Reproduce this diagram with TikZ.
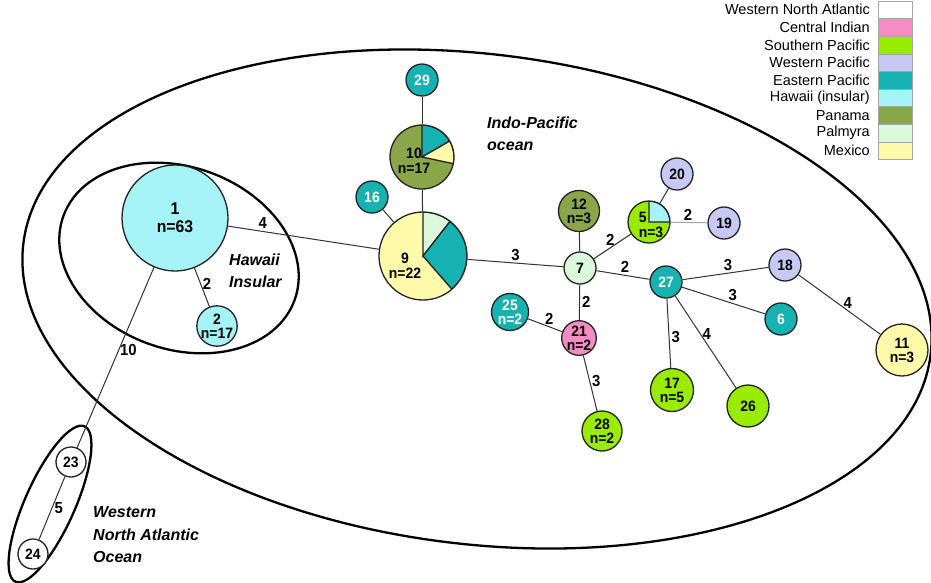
\documentclass[tikz,border=0pt]{standalone}
\usepackage{fontspec}
\setmainfont{Liberation Sans}
\newfontfamily\narrowsans[FakeStretch=0.93]{Liberation Sans}
\usetikzlibrary{positioning}

\definecolor{wnatl}{RGB}{255,255,255}
\definecolor{cindian}{RGB}{245,140,195}
\definecolor{spacific}{RGB}{153,236,0}
\definecolor{wpacific}{RGB}{200,200,245}
\definecolor{epacific}{RGB}{22,178,178}
\definecolor{hawaii}{RGB}{166,243,247}
\definecolor{panama}{RGB}{139,166,72}
\definecolor{palmyra}{RGB}{220,248,220}
\definecolor{mexico}{RGB}{255,249,170}
\definecolor{outline}{RGB}{35,35,35}

% one wedge of a pie node (angles in the y-down frame)
\newcommand{\pieslice}[4]{%
  \filldraw[fill=#1, draw=outline, line width=1.3pt]
    (path picture bounding box.center) -- ++(#2:#4)
    arc[start angle=#2, end angle=#3, radius=#4] -- cycle;}

\begin{document}
\begin{tikzpicture}[x=1pt, y=-1pt,
    hap/.style = {circle, draw=outline, line width=1.3pt, inner sep=0pt, align=center,
                  font=\narrowsans\bfseries\fontsize{15}{14}\selectfont},
    pietext/.style = {align=center, inner sep=0pt, font=\narrowsans\bfseries\fontsize{15}{15}\selectfont},
    link/.style = {draw=black!80, line width=1pt},
    elab/.style = {inner sep=2pt, font=\narrowsans\bfseries\fontsize{16}{16}\selectfont},
    region/.style = {draw=black, line width=2.3pt},
    regtext/.style = {align=left, anchor=west, inner sep=0pt,
                      font=\bfseries\itshape\fontsize{16}{22.5}\selectfont},
    legbox/.style = {draw=black!35, line width=0.6pt, minimum width=34pt, minimum height=17.6pt,
                     inner sep=0pt, outer sep=0pt},
    legtext/.style = {inner sep=0pt, font=\fontsize{14.5}{16}\selectfont}
  ]
  \path[fill=white, use as bounding box] (0,0) rectangle (931,582);

  % Regions
  \draw[region, rotate around={-7:(477,299)}] (477,299) ellipse [x radius=457, y radius=245];
  \draw[region, rotate around={-20:(179,258)}] (179,258) ellipse [x radius=123, y radius=91];
  \draw[region, rotate around={66:(50,504)}] (50,504) ellipse [x radius=85, y radius=25];

  \node[regtext] (hawtxt) at (229,271) {Hawaii\\Insular};
  \node[regtext] (indotxt) at (487,134) {Indo-Pacific\\ocean};
  \node[regtext] (wnatxt) at (93,535) {Western\\North Atlantic\\Ocean};

  % Haplotypes
  \node[hap, minimum size=106pt, fill=hawaii, font=\narrowsans\bfseries\fontsize{17}{18}\selectfont]
    (n1) at (175,218) {1\\n=63};
  \node[hap, minimum size=40pt, fill=hawaii] (n2) at (217,326) {2\\n=17};
  \node[hap, minimum size=30pt, fill=wnatl] (n23) at (71,462) {23};
  \node[hap, minimum size=30pt, fill=wnatl] (n24) at (33,554) {24};

  \node[hap, minimum size=88pt, fill=mexico,
        path picture={\pieslice{palmyra}{-90}{-52}{44}\pieslice{epacific}{-52}{49}{44}},
        label={[pietext, xshift=-18pt, yshift=-10pt]center:{9\\n=22}}] (n9) at (423,256) {};
  \node[hap, minimum size=64pt, fill=panama,
        path picture={\pieslice{epacific}{-90}{-30}{32}\pieslice{mexico}{-30}{12}{32}},
        label={[pietext, xshift=-8pt, yshift=-4pt]center:{10\\n=17}}] (n10) at (422,157) {};
  \node[hap, minimum size=32pt, fill=epacific, text=white] (n29) at (422,80) {29};
  \node[hap, minimum size=32pt, fill=epacific, text=white] (n16) at (372,197) {16};

  \node[hap, minimum size=32pt, fill=palmyra] (n7) at (580,268) {7};
  \node[hap, minimum size=41pt, fill=panama] (n12) at (579,211) {12\\n=3};
  \node[hap, minimum size=42pt, fill=spacific,
        path picture={\pieslice{hawaii}{-90}{0}{21}},
        label={[pietext, align=left, xshift=2pt, yshift=-3pt]center:{5\\n=3}}] (n5) at (649,222) {};
  \node[hap, minimum size=32pt, fill=wpacific] (n20) at (677,174) {20};
  \node[hap, minimum size=32pt, fill=wpacific] (n19) at (724,223) {19};
  \node[hap, minimum size=37pt, fill=epacific, text=white] (n25) at (510,312) {25\\n=2};
  \node[hap, minimum size=32pt, fill=cindian] (n21) at (579,338) {21\\n=2};
  \node[hap, minimum size=40pt, fill=spacific] (n28) at (602,431) {28\\n=2};

  \node[hap, minimum size=32pt, fill=epacific, text=white] (n27) at (666,282) {27};
  \node[hap, minimum size=32pt, fill=wpacific] (n18) at (785,265) {18};
  \node[hap, minimum size=32pt, fill=epacific, text=white] (n6) at (781,319) {6};
  \node[hap, minimum size=52pt, fill=mexico] (n11) at (902,350) {11\\n=3};
  \node[hap, minimum size=43pt, fill=spacific] (n17) at (672,390) {17\\n=5};
  \node[hap, minimum size=42pt, fill=spacific] (n26) at (748,406) {26};

  % Mutational steps
  \draw[link] (n1) -- node[elab, above, pos=0.23] (s1) {4} (n9);
  \draw[link] (n1) -- node[elab, right, pos=0.4] (s2) {2} (n2);
  \draw[link] (n1) -- node[elab, right, pos=0.46, inner sep=1pt] (s3) {10} (n23);
  \draw[link] (n23) -- node[elab, right, pos=0.5] (s4) {5} (n24);
  \draw[link] (n9) -- (n16);
  \draw[link] (n9) -- (n10);
  \draw[link] (n10) -- (n29);
  \draw[link] (n9) -- node[elab, above, pos=0.5] (s5) {3} (n7);
  \draw[link] (n7) -- (n12);
  \draw[link] (n7) -- node[elab, above, pos=0.44] (s6) {2} (n5);
  \draw[link] (n5) -- (n20);
  \draw[link, draw=black!35] (n5) -- node[elab, above, pos=0.47] (s7) {2} (n19);
  \draw[link] (n7) -- node[elab, above, pos=0.54] (s8) {2} (n27);
  \draw[link] (n7) -- node[elab, right, pos=0.5] (s9) {2} (n21);
  \draw[link] (n25) -- node[elab, above, pos=0.62] (s10) {2} (n21);
  \draw[link] (n21) -- node[elab, right, pos=0.46] (s11) {3} (n28);
  \draw[link] (n27) -- node[elab, above, pos=0.53] (s12) {3} (n18);
  \draw[link] (n27) -- node[elab, above, pos=0.61] (s13) {3} (n6);
  \draw[link] (n27) -- node[elab, right, pos=0.56] (s14) {3} (n17);
  \draw[link] (n27) -- node[elab, right, pos=0.41] (s15) {4} (n26);
  \draw[link] (n18) -- node[elab, above, pos=0.6] (s16) {4} (n11);

  % Legend
  \node[legbox, fill=wnatl] (lg1) at (895,9.8) {};
  \node[legbox, fill=cindian, below=0pt of lg1] (lg2) {};
  \node[legbox, fill=spacific, below=0pt of lg2] (lg3) {};
  \node[legbox, fill=wpacific, below=0pt of lg3] (lg4) {};
  \node[legbox, fill=epacific, below=0pt of lg4] (lg5) {};
  \node[legbox, fill=hawaii, below=0pt of lg5] (lg6) {};
  \node[legbox, fill=panama, below=0pt of lg6] (lg7) {};
  \node[legbox, fill=palmyra, below=0pt of lg7] (lg8) {};
  \node[legbox, fill=mexico, below=0pt of lg8] (lg9) {};

  \node[legtext, left=8pt of lg1] (lt1) {Western North Atlantic};
  \node[legtext, left=8pt of lg2] (lt2) {Central Indian};
  \node[legtext, left=8pt of lg3] (lt3) {Southern Pacific};
  \node[legtext, left=8pt of lg4] (lt4) {Western Pacific};
  \node[legtext, left=8pt of lg5] (lt5) {Eastern Pacific};
  \node[legtext, left=8pt of lg6] (lt6) {Hawaii (insular)};
  \node[legtext, left=8pt of lg7] (lt7) {Panama};
  \node[legtext, left=8pt of lg8] (lt8) {Palmyra};
  \node[legtext, left=8pt of lg9] (lt9) {Mexico};
\end{tikzpicture}
\end{document}
